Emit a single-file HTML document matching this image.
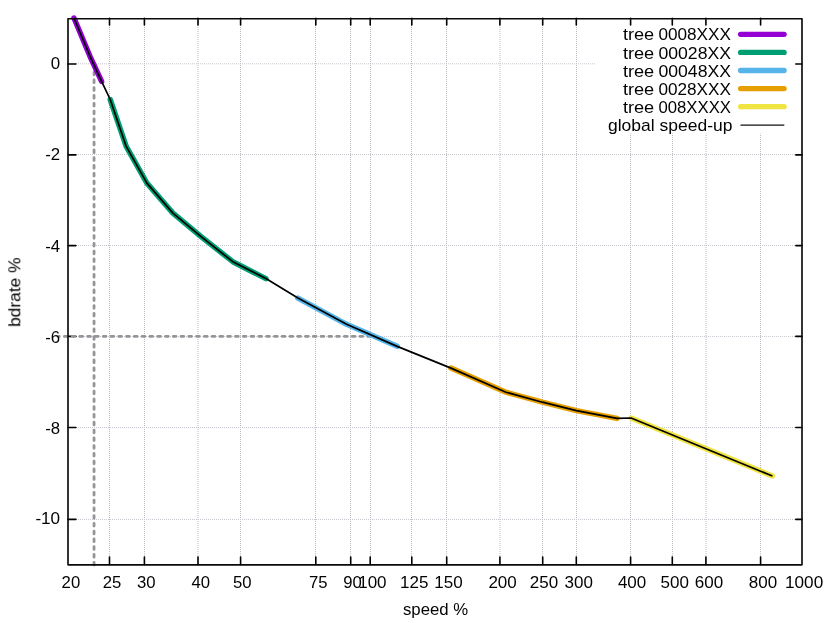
<!DOCTYPE html>
<html><head><meta charset="utf-8"><title>bdrate vs speed</title>
<style>html,body{margin:0;padding:0;background:#fff;}svg{display:block;}text{font-family:"Liberation Sans",sans-serif;font-size:16.6px;fill:#000;}</style></head><body>
<svg width="830" height="623" viewBox="0 0 830 623">
<rect x="0" y="0" width="830" height="623" fill="#ffffff"/>
<g stroke-width="1" stroke-dasharray="1 1" fill="none">
<g stroke="#babac2">
<line x1="109.5" y1="19" x2="109.5" y2="564"/>
<line x1="144.5" y1="19" x2="144.5" y2="564"/>
<line x1="198" y1="19" x2="198" y2="564"/>
<line x1="240.5" y1="19" x2="240.5" y2="564"/>
<line x1="315.5" y1="19" x2="315.5" y2="564"/>
<line x1="350.5" y1="19" x2="350.5" y2="564"/>
<line x1="370.5" y1="19" x2="370.5" y2="564"/>
<line x1="411.5" y1="19" x2="411.5" y2="564"/>
<line x1="446.5" y1="19" x2="446.5" y2="564"/>
<line x1="500" y1="19" x2="500" y2="564"/>
<line x1="542.5" y1="19" x2="542.5" y2="564"/>
<line x1="576.5" y1="19" x2="576.5" y2="564"/>
<line x1="630.5" y1="19" x2="630.5" y2="564"/>
<line x1="672.5" y1="19" x2="672.5" y2="564"/>
<line x1="706" y1="19" x2="706" y2="564"/>
<line x1="760.5" y1="19" x2="760.5" y2="564"/>
</g><g stroke="#c6c6ce">
<line x1="68" y1="63.8" x2="802" y2="63.8"/>
<line x1="68" y1="154.6" x2="802" y2="154.6"/>
<line x1="68" y1="245.55" x2="802" y2="245.55"/>
<line x1="68" y1="336.45" x2="802" y2="336.45"/>
<line x1="68" y1="427.5" x2="802" y2="427.5"/>
<line x1="68" y1="519.45" x2="802" y2="519.45"/>
</g></g>
<rect x="596" y="18.7" width="206" height="114.8" fill="#fff"/>
<g stroke="#000" stroke-width="1.6" fill="none" stroke-linecap="round">
<line x1="109.5" y1="564.6" x2="109.5" y2="557.1"/>
<line x1="109.5" y1="18.35" x2="109.5" y2="24.95"/>
<line x1="144.4" y1="564.6" x2="144.4" y2="557.1"/>
<line x1="144.4" y1="18.35" x2="144.4" y2="24.95"/>
<line x1="198" y1="564.6" x2="198" y2="557.1"/>
<line x1="198" y1="18.35" x2="198" y2="24.95"/>
<line x1="240.6" y1="564.6" x2="240.6" y2="557.1"/>
<line x1="240.6" y1="18.35" x2="240.6" y2="24.95"/>
<line x1="315.8" y1="564.6" x2="315.8" y2="557.1"/>
<line x1="315.8" y1="18.35" x2="315.8" y2="24.95"/>
<line x1="350.7" y1="564.6" x2="350.7" y2="557.1"/>
<line x1="350.7" y1="18.35" x2="350.7" y2="24.95"/>
<line x1="370.2" y1="564.6" x2="370.2" y2="557.1"/>
<line x1="370.2" y1="18.35" x2="370.2" y2="24.95"/>
<line x1="411.8" y1="564.6" x2="411.8" y2="557.1"/>
<line x1="411.8" y1="18.35" x2="411.8" y2="24.95"/>
<line x1="446.7" y1="564.6" x2="446.7" y2="557.1"/>
<line x1="446.7" y1="18.35" x2="446.7" y2="24.95"/>
<line x1="499.9" y1="564.6" x2="499.9" y2="557.1"/>
<line x1="499.9" y1="18.35" x2="499.9" y2="24.95"/>
<line x1="542.7" y1="564.6" x2="542.7" y2="557.1"/>
<line x1="542.7" y1="18.35" x2="542.7" y2="24.95"/>
<line x1="576.3" y1="564.6" x2="576.3" y2="557.1"/>
<line x1="576.3" y1="18.35" x2="576.3" y2="24.95"/>
<line x1="630.6" y1="564.6" x2="630.6" y2="557.1"/>
<line x1="630.6" y1="18.35" x2="630.6" y2="24.95"/>
<line x1="672.3" y1="564.6" x2="672.3" y2="557.1"/>
<line x1="672.3" y1="18.35" x2="672.3" y2="24.95"/>
<line x1="705.9" y1="564.6" x2="705.9" y2="557.1"/>
<line x1="705.9" y1="18.35" x2="705.9" y2="24.95"/>
<line x1="760.6" y1="564.6" x2="760.6" y2="557.1"/>
<line x1="760.6" y1="18.35" x2="760.6" y2="24.95"/>
<line x1="68" y1="64" x2="75.9" y2="64"/>
<line x1="802" y1="64" x2="795.8" y2="64"/>
<line x1="68" y1="154.9" x2="75.9" y2="154.9"/>
<line x1="802" y1="154.9" x2="795.8" y2="154.9"/>
<line x1="68" y1="245.6" x2="75.9" y2="245.6"/>
<line x1="802" y1="245.6" x2="795.8" y2="245.6"/>
<line x1="68" y1="336.4" x2="75.9" y2="336.4"/>
<line x1="802" y1="336.4" x2="795.8" y2="336.4"/>
<line x1="68" y1="427.45" x2="75.9" y2="427.45"/>
<line x1="802" y1="427.45" x2="795.8" y2="427.45"/>
<line x1="68" y1="519.4" x2="75.9" y2="519.4"/>
<line x1="802" y1="519.4" x2="795.8" y2="519.4"/>
</g>
<g stroke="#959599" stroke-width="2.8" stroke-dasharray="2.7 5.08" stroke-linecap="round" fill="none">
<line x1="58.9" y1="336.4" x2="374" y2="336.4" stroke-dashoffset="2.32"/>
<line x1="94.05" y1="565.0" x2="94.05" y2="62"/>
</g>
<g fill="none" stroke-width="5.5" stroke-linecap="round" stroke-linejoin="round">
<polyline stroke="#9400D3" points="74,18 90.8,58.2 101.6,81.3"/>
<polyline stroke="#009E73" points="110.2,99.5 126.2,146.4 146.9,183.1 172.9,213.1 201.1,236.7 232.8,261.7 265.9,278.6"/>
<polyline stroke="#56B4E9" points="297.9,298.1 346.6,324.3 397.2,346.35"/>
<polyline stroke="#E69F00" points="451,368.1 506,392.2 542.4,402.2 576.4,410.6 617,418.35"/>
<polyline stroke="#F0E442" points="631.1,418 772.4,476"/>
</g>
<polyline fill="none" stroke="#000" stroke-width="1.7" stroke-linecap="butt" stroke-linejoin="round" points="74,18 90.8,58.2 101.6,81.3 110.2,99.5 126.2,146.4 146.9,183.1 172.9,213.1 201.1,236.7 232.8,261.7 265.9,278.6 297.9,298.1 346.6,324.3 397.2,346.35 451,368.1 506,392.2 542.4,402.2 576.4,410.6 617,418.35 631.1,418 772.4,476"/>
<rect x="68" y="18.7" width="734" height="546.15" stroke="#0a0a0a" stroke-width="1.65" fill="none" stroke-linejoin="round"/>
<g opacity="0.996">
<text x="70.9" y="587.5" text-anchor="middle" textLength="18.59" lengthAdjust="spacingAndGlyphs">20</text>
<text x="112.01" y="587.5" text-anchor="middle" textLength="18.59" lengthAdjust="spacingAndGlyphs">25</text>
<text x="146.26" y="587.5" text-anchor="middle" textLength="18.59" lengthAdjust="spacingAndGlyphs">30</text>
<text x="200.7" y="587.5" text-anchor="middle" textLength="18.59" lengthAdjust="spacingAndGlyphs">40</text>
<text x="242.21" y="587.5" text-anchor="middle" textLength="18.59" lengthAdjust="spacingAndGlyphs">50</text>
<text x="318.37" y="587.5" text-anchor="middle" textLength="18.59" lengthAdjust="spacingAndGlyphs">75</text>
<text x="352.61" y="587.5" text-anchor="middle" textLength="18.59" lengthAdjust="spacingAndGlyphs">90</text>
<text x="372.4" y="587.5" text-anchor="middle" textLength="28.38" lengthAdjust="spacingAndGlyphs">100</text>
<text x="414.32" y="587.5" text-anchor="middle" textLength="28.38" lengthAdjust="spacingAndGlyphs">125</text>
<text x="448.56" y="587.5" text-anchor="middle" textLength="28.38" lengthAdjust="spacingAndGlyphs">150</text>
<text x="502.6" y="587.5" text-anchor="middle" textLength="28.38" lengthAdjust="spacingAndGlyphs">200</text>
<text x="543.91" y="587.5" text-anchor="middle" textLength="28.38" lengthAdjust="spacingAndGlyphs">250</text>
<text x="578.76" y="587.5" text-anchor="middle" textLength="28.38" lengthAdjust="spacingAndGlyphs">300</text>
<text x="632.1" y="587.5" text-anchor="middle" textLength="28.38" lengthAdjust="spacingAndGlyphs">400</text>
<text x="674.71" y="587.5" text-anchor="middle" textLength="28.38" lengthAdjust="spacingAndGlyphs">500</text>
<text x="708.95" y="587.5" text-anchor="middle" textLength="28.38" lengthAdjust="spacingAndGlyphs">600</text>
<text x="762.99" y="587.5" text-anchor="middle" textLength="28.38" lengthAdjust="spacingAndGlyphs">800</text>
<text x="804.1" y="587.5" text-anchor="middle" textLength="38.18" lengthAdjust="spacingAndGlyphs">1000</text>
<text x="60.15" y="68.5" text-anchor="end" textLength="9.39" lengthAdjust="spacingAndGlyphs">0</text>
<text x="60.15" y="159.7" text-anchor="end" textLength="14.95" lengthAdjust="spacingAndGlyphs">-2</text>
<text x="60.15" y="251.6" text-anchor="end" textLength="14.95" lengthAdjust="spacingAndGlyphs">-4</text>
<text x="60.15" y="342.5" text-anchor="end" textLength="14.95" lengthAdjust="spacingAndGlyphs">-6</text>
<text x="60.15" y="433.5" text-anchor="end" textLength="14.95" lengthAdjust="spacingAndGlyphs">-8</text>
<text x="60.15" y="524" text-anchor="end" textLength="24.75" lengthAdjust="spacingAndGlyphs">-10</text>
<text x="435.6" y="614.7" text-anchor="middle" textLength="65.3" lengthAdjust="spacingAndGlyphs">speed %</text>
<text transform="translate(20.3,292.2) rotate(-90)" x="0" y="0" text-anchor="middle" textLength="69.7" lengthAdjust="spacingAndGlyphs">bdrate %</text>
<text x="622.9" y="40.4" textLength="31.3" lengthAdjust="spacingAndGlyphs">tree</text>
<text x="731.0" y="40.4" text-anchor="end" textLength="72.6" lengthAdjust="spacingAndGlyphs">0008XXX</text>
<text x="622.9" y="58.5" textLength="31.3" lengthAdjust="spacingAndGlyphs">tree</text>
<text x="731.0" y="58.5" text-anchor="end" textLength="72.6" lengthAdjust="spacingAndGlyphs">00028XX</text>
<text x="622.9" y="76.6" textLength="31.3" lengthAdjust="spacingAndGlyphs">tree</text>
<text x="731.0" y="76.6" text-anchor="end" textLength="72.6" lengthAdjust="spacingAndGlyphs">00048XX</text>
<text x="622.9" y="94.7" textLength="31.3" lengthAdjust="spacingAndGlyphs">tree</text>
<text x="731.0" y="94.7" text-anchor="end" textLength="72.6" lengthAdjust="spacingAndGlyphs">0028XXX</text>
<text x="622.9" y="112.8" textLength="31.3" lengthAdjust="spacingAndGlyphs">tree</text>
<text x="731.0" y="112.8" text-anchor="end" textLength="72.6" lengthAdjust="spacingAndGlyphs">008XXXX</text>
<text x="732.4" y="130.9" text-anchor="end" textLength="124.4" lengthAdjust="spacingAndGlyphs">global speed-up</text>
</g>
<line x1="740.6" y1="34.3" x2="784.1" y2="34.3" stroke="#9400D3" stroke-width="5.3" stroke-linecap="round"/>
<line x1="740.6" y1="52.4" x2="784.1" y2="52.4" stroke="#009E73" stroke-width="5.3" stroke-linecap="round"/>
<line x1="740.6" y1="70.5" x2="784.1" y2="70.5" stroke="#56B4E9" stroke-width="5.3" stroke-linecap="round"/>
<line x1="740.6" y1="88.6" x2="784.1" y2="88.6" stroke="#E69F00" stroke-width="5.3" stroke-linecap="round"/>
<line x1="740.6" y1="106.7" x2="784.1" y2="106.7" stroke="#F0E442" stroke-width="5.3" stroke-linecap="round"/>
<line x1="740.5" y1="125.1" x2="784.3" y2="125.1" stroke="#111" stroke-width="1.4" stroke-linecap="butt"/>
</svg></body></html>
